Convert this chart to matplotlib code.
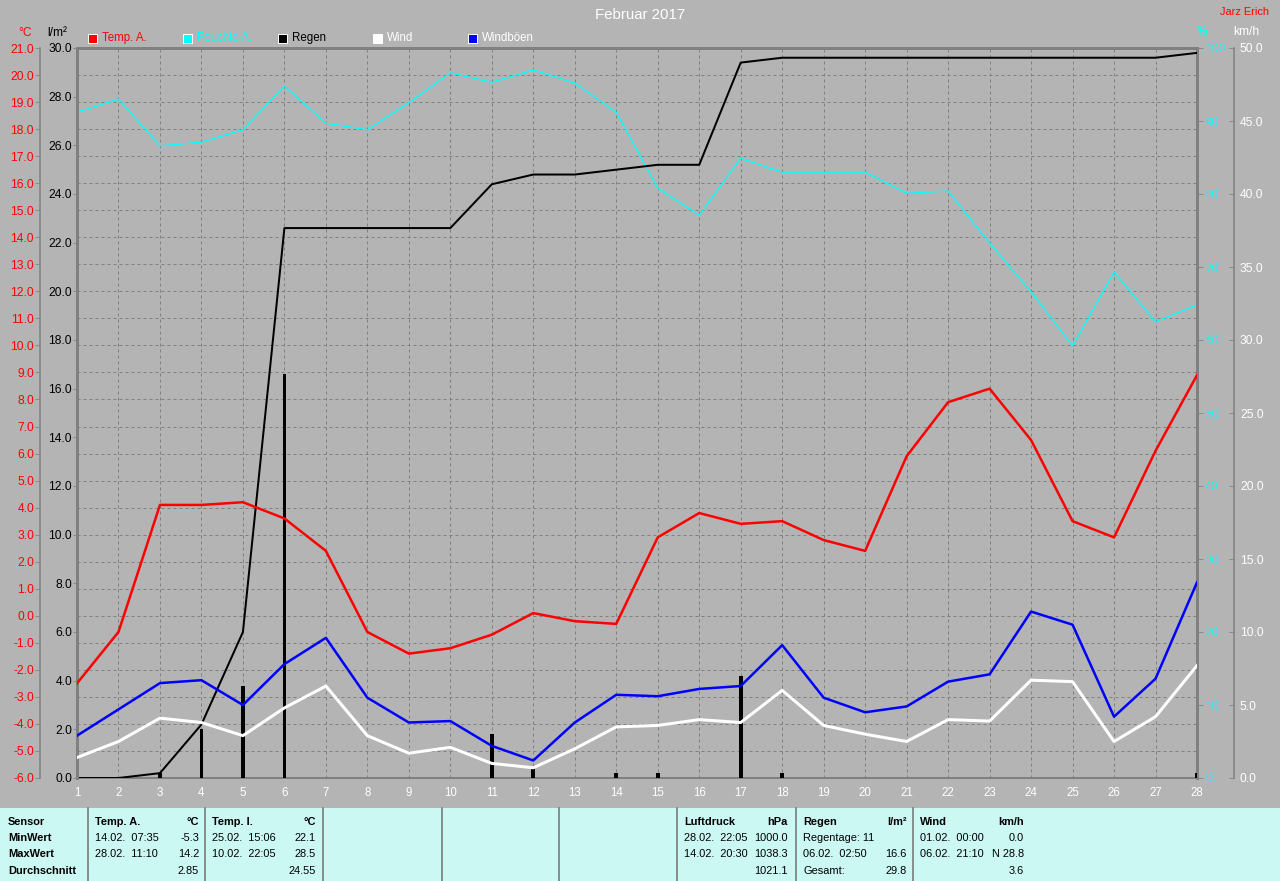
import matplotlib

matplotlib.use("Agg")
import matplotlib.pyplot as plt
from matplotlib.lines import Line2D
from matplotlib.patches import Rectangle
from matplotlib.ticker import FormatStrFormatter, MultipleLocator

W, H = 1280, 881
BG = "#b4b4b4"
GRID = "#808080"
TABLE_BG = "#ccf8f4"

DAYS = list(range(1, 29))
TEMP_A = [-2.5, -0.6, 4.1, 4.1, 4.2, 3.6, 2.4, -0.6, -1.4, -1.2, -0.7, 0.1, -0.2, -0.3,
          2.9, 3.8, 3.4, 3.5, 2.8, 2.4, 5.9, 7.9, 8.4, 6.5, 3.5, 2.9, 6.1, 8.9]
HUMIDITY = [91.2, 93.0, 86.6, 87.1, 88.8, 94.8, 89.7, 88.8, 92.5, 96.6, 95.3, 97.0, 95.2, 91.2,
            80.8, 77.1, 84.9, 83.0, 83.0, 83.0, 80.1, 80.4, 73.3, 66.6, 59.2, 69.3, 62.5, 64.8]
RAIN_DAILY = [0, 0, 0.2, 2.0, 3.8, 16.6, 0, 0, 0, 0, 1.8, 0.4, 0, 0.2,
              0.2, 0, 4.2, 0.2, 0, 0, 0, 0, 0, 0, 0, 0, 0, 0.2]
RAIN_TOTAL = [0, 0, 0.2, 2.2, 6.0, 22.6, 22.6, 22.6, 22.6, 22.6, 24.4, 24.8, 24.8, 25.0,
              25.2, 25.2, 29.4, 29.6, 29.6, 29.6, 29.6, 29.6, 29.6, 29.6, 29.6, 29.6, 29.6, 29.8]
WIND = [1.4, 2.5, 4.1, 3.8, 2.9, 4.8, 6.3, 2.9, 1.7, 2.1, 1.0, 0.7, 2.0, 3.5,
        3.6, 4.0, 3.8, 6.0, 3.6, 3.0, 2.5, 4.0, 3.9, 6.7, 6.6, 2.5, 4.2, 7.7]
GUSTS = [2.9, 4.7, 6.5, 6.7, 5.0, 7.8, 9.6, 5.5, 3.8, 3.9, 2.2, 1.2, 3.8, 5.7,
         5.6, 6.1, 6.3, 9.1, 5.5, 4.5, 4.9, 6.6, 7.1, 11.4, 10.5, 4.2, 6.8, 13.4]

LEGEND = [("Temp. A.", "#ff0000", "#ff0000"), ("Feuchte A.", "#00ffff", "#00ffff"),
          ("Regen", "#000000", "#000000"), ("Wind", "#ffffff", "#ffffff"),
          ("Windböen", "#0000ff", "#ffffff")]

ROW_NAMES = ["Sensor", "MinWert", "MaxWert", "Durchschnitt"]
# (column left edge, header, unit, [(left text, right text) per row])
TABLE_COLS = [
    (88, "Temp. A.", "°C", [("14.02.  07:35", "-5.3"), ("28.02.  11:10", "14.2"), ("", "2.85")]),
    (205, "Temp. I.", "°C", [("25.02.  15:06", "22.1"), ("10.02.  22:05", "28.5"), ("", "24.55")]),
    (677, "Luftdruck", "hPa", [("28.02.  22:05", "1000.0"), ("14.02.  20:30", "1038.3"), ("", "1021.1")]),
    (796, "Regen", "l/m²", [("Regentage: 11", ""), ("06.02.  02:50", "16.6"), ("Gesamt:", "29.8")]),
    (913, "Wind", "km/h", [("01.02.  00:00", "0.0"), ("06.02.  21:10", "N 28.8"), ("", "3.6")]),
]
SEPARATORS = [88, 205, 323, 442, 559, 677, 796, 913]

plt.rcParams["font.family"] = ["Liberation Sans", "DejaVu Sans"]


def fx(x):
    return x / W


def fy(y):
    return 1 - y / H


fig = plt.figure(figsize=(W / 72, H / 72), dpi=72, facecolor=BG)

ax = fig.add_axes([fx(77), fy(778), 1120 / W, 730 / H])
ax.set_facecolor(BG)
ax.set_xlim(1, 28)
ax.set_ylim(-6, 21)
ax.xaxis.set_major_locator(MultipleLocator(1))
ax.yaxis.set_major_locator(MultipleLocator(1))
ax.yaxis.set_major_formatter(FormatStrFormatter("%.1f"))
ax.grid(True, color=GRID, linestyle=(0, (3, 3)), linewidth=1)
ax.set_axisbelow(True)
ax.tick_params(axis="x", length=0, labelcolor="white", labelsize=11.5, pad=9)
ax.tick_params(axis="y", direction="out", length=5, color=GRID, labelcolor="#ff0000",
               labelsize=12, pad=1)
ax.spines["left"].set_position(("outward", 37))
ax.spines["left"].set_color(GRID)
ax.spines["left"].set_linewidth(1.5)
ax.spines["right"].set_visible(False)
ax.spines["top"].set_color(GRID)
ax.spines["top"].set_linewidth(3)
ax.spines["bottom"].set_color(GRID)
ax.spines["bottom"].set_linewidth(2)

# humidity
ax_h = ax.twinx()
ax_h.set_ylim(0, 100)
ax_h.yaxis.set_major_locator(MultipleLocator(10))
ax_h.tick_params(axis="y", direction="out", length=6, color=GRID, labelcolor="#00ffff",
                 labelsize=12, pad=2)
for side in ("left", "top", "bottom"):
    ax_h.spines[side].set_visible(False)
ax_h.spines["right"].set_color(GRID)
ax_h.spines["right"].set_linewidth(3)
ax_h.plot(DAYS, HUMIDITY, color="#00ffff", linewidth=1.3)

# rain
ax_r = ax.twinx()
ax_r.set_ylim(0, 30)
ax_r.yaxis.set_ticks_position("left")
ax_r.yaxis.set_major_locator(MultipleLocator(2))
ax_r.yaxis.set_major_formatter(FormatStrFormatter("%.1f"))
ax_r.tick_params(axis="y", direction="out", length=4, color=GRID, labelcolor="black",
                 labelsize=12, pad=1)
for side in ("right", "top", "bottom"):
    ax_r.spines[side].set_visible(False)
ax_r.spines["left"].set_color(GRID)
ax_r.spines["left"].set_linewidth(3)
ax_r.bar(DAYS, RAIN_DAILY, width=0.09, color="black")
ax_r.plot(DAYS, RAIN_TOTAL, color="black", linewidth=2)

# temperature on top of humidity and rain
ax_t = ax.twinx()
ax_t.set_ylim(-6, 21)
ax_t.set_yticks([])
for side in ax_t.spines:
    ax_t.spines[side].set_visible(False)
ax_t.plot(DAYS, TEMP_A, color="#ff0000", linewidth=2.5)

# wind
ax_w = ax.twinx()
ax_w.set_ylim(0, 50)
ax_w.yaxis.set_major_locator(MultipleLocator(5))
ax_w.yaxis.set_major_formatter(FormatStrFormatter("%.1f"))
ax_w.tick_params(axis="y", direction="in", length=5, color=GRID, labelcolor="white",
                 labelsize=12, pad=6)
for side in ("left", "top", "bottom"):
    ax_w.spines[side].set_visible(False)
ax_w.spines["right"].set_position(("outward", 37))
ax_w.spines["right"].set_color(GRID)
ax_w.spines["right"].set_linewidth(1.5)
ax_w.plot(DAYS, GUSTS, color="#0000ff", linewidth=2.5)
ax_w.plot(DAYS, WIND, color="white", linewidth=3)

# header texts
fig.text(0.5, fy(15), "Februar 2017", color="white", fontsize=15, ha="center", va="center")
fig.text(fx(1245), fy(12), "Jarz Erich", color="#ff0000", fontsize=11, ha="center", va="center")
fig.text(fx(25), fy(33), "°C", color="#ff0000", fontsize=12, ha="center", va="center")
fig.text(fx(57), fy(33), "l/m²", color="black", fontsize=12, ha="center", va="center")
fig.text(fx(1202), fy(32), "%", color="#00ffff", fontsize=12, ha="center", va="center")
fig.text(fx(1246), fy(32), "km/h", color="white", fontsize=12, ha="center", va="center")

for i, (label, box_color, text_color) in enumerate(LEGEND):
    x0 = 88 + i * 95
    fig.add_artist(Rectangle((fx(x0), fy(43)), 9 / W, 9 / H, transform=fig.transFigure,
                             facecolor=box_color, edgecolor="white", linewidth=1))
    fig.text(fx(x0 + 14), fy(38), label, color=text_color, fontsize=11.5, va="center")

# statistics table
fig.add_artist(Rectangle((0, 0), 1, 73 / H, transform=fig.transFigure,
                         facecolor=TABLE_BG, edgecolor="none"))
for x in SEPARATORS:
    fig.add_artist(Line2D([fx(x), fx(x)], [0, 73 / H], transform=fig.transFigure,
                          color="#6e6e6e", linewidth=1.5))
ROW_Y = [822, 838, 854, 871]
for name, y in zip(ROW_NAMES, ROW_Y):
    fig.text(fx(8), fy(y), name, fontsize=11, fontweight="bold", va="center")
for x0, header, unit, rows in TABLE_COLS:
    fig.text(fx(x0 + 7), fy(ROW_Y[0]), header, fontsize=11, fontweight="bold", va="center")
    fig.text(fx(x0 + 111), fy(ROW_Y[0]), unit, fontsize=11, fontweight="bold",
             va="center", ha="right")
    for (left, right), y in zip(rows, ROW_Y[1:]):
        fig.text(fx(x0 + 7), fy(y), left, fontsize=11, va="center")
        fig.text(fx(x0 + 111), fy(y), right, fontsize=11, va="center", ha="right")

fig.savefig("out.png", dpi=72, facecolor=BG)
